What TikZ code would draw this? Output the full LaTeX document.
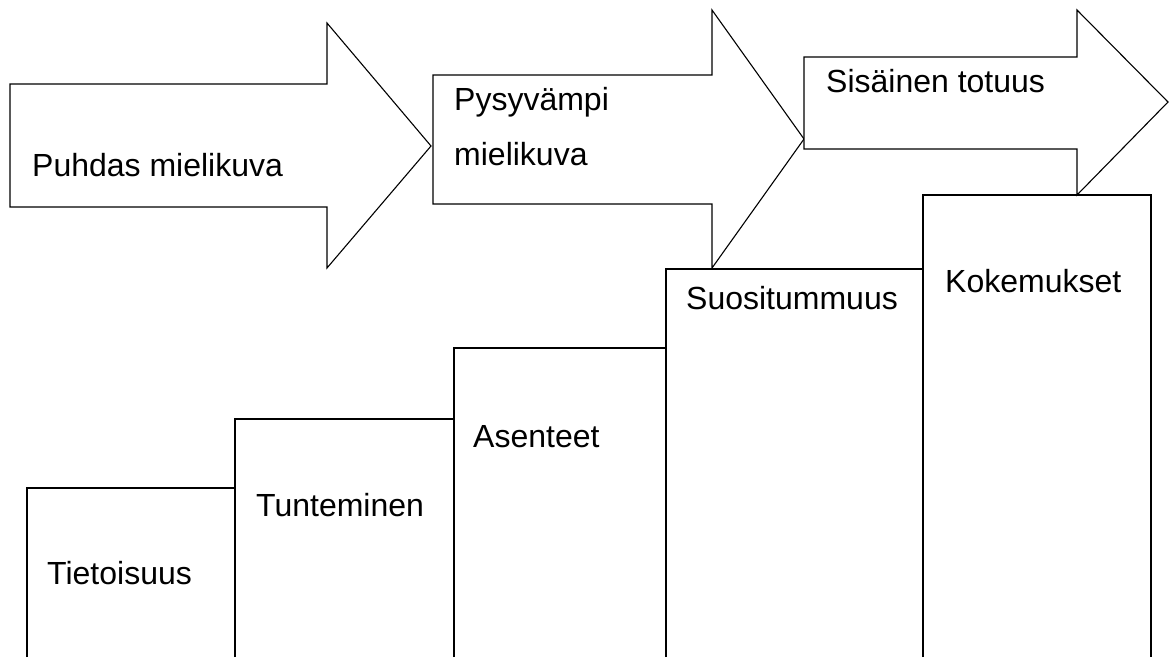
\documentclass[tikz,border=0pt]{standalone}
\usepackage{fontspec}
\setmainfont{Liberation Sans}
\usepackage{tikz}

\begin{document}
\begin{tikzpicture}[
  x=1pt, y=-1pt,
  shape line/.style={draw, line width=1.1pt, line join=miter, fill=white},
  bar line/.style={draw, line width=1.1pt},
  lbl/.style={anchor=base west, inner sep=0pt, font=\fontsize{32}{55}\selectfont, align=left}
]
  \useasboundingbox (0,0) rectangle (1173,657);

  % Steps (open at the bottom)
  \draw[bar line] (27,657) -- (27,488) -- (235,488) -- (235,657);
  \draw[bar line] (235,657) -- (235,419) -- (454,419) -- (454,657);
  \draw[bar line] (454,657) -- (454,348) -- (666,348) -- (666,657);
  \draw[bar line] (666,657) -- (666,269) -- (923,269) -- (923,657);
  \draw[bar line] (923,657) -- (923,195) -- (1151,195) -- (1151,657);

  \node[lbl] (tieto) at (47,584) {Tietoisuus};
  \node[lbl] (tunte) at (256,516) {Tunteminen};
  \node[lbl] (asen) at (473,447) {Asenteet};
  \node[lbl] (suosi) at (686,309) {Suositummuus};
  \node[lbl] (koke) at (945,292) {Kokemukset};

  % Arrows
  \draw[shape line] (10,84) -- (327,84) -- (327,23) -- (431,146)
    -- (327,268) -- (327,207) -- (10,207) -- cycle;
  \draw[shape line] (433,75) -- (712,75) -- (712,10) -- (804,139)
    -- (712,268) -- (712,204) -- (433,204) -- cycle;
  \draw[shape line] (804,57) -- (1077,57) -- (1077,10) -- (1168,102)
    -- (1077,195) -- (1077,149) -- (804,149) -- cycle;

  \node[lbl] (puhdas) at (32,176) {Puhdas mielikuva};
  \node[lbl] (pysy) at (454,110) {Pysyvämpi};
  \node[lbl] (pysy2) at (454,165) {mielikuva};
  \node[lbl] (sisa) at (826,92) {Sisäinen totuus};
\end{tikzpicture}
\end{document}
